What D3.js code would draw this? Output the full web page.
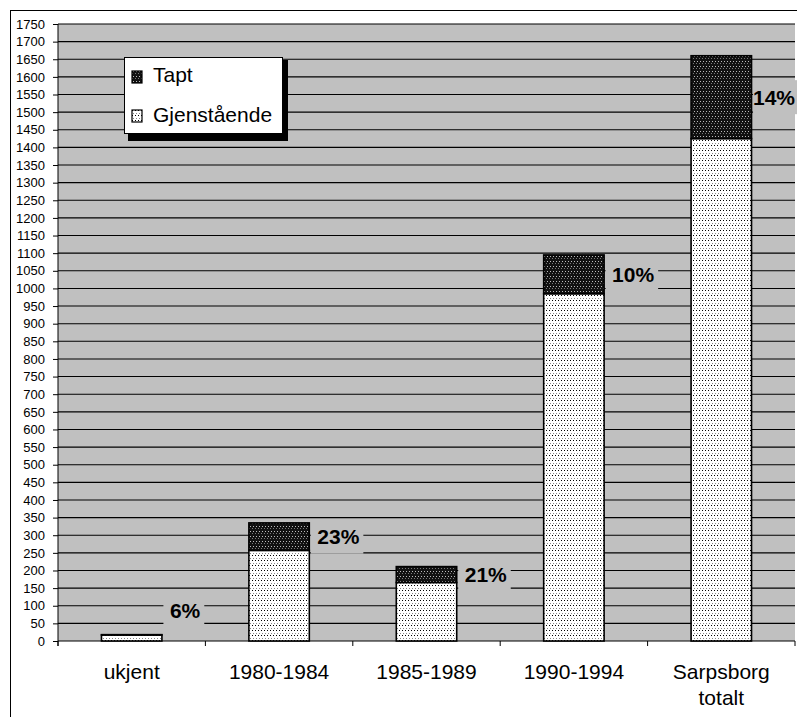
<!DOCTYPE html>
<html>
<head>
<meta charset="utf-8">
<script src="https://cdn.jsdelivr.net/npm/d3@7"></script>
<style>
  html, body { margin: 0; padding: 0; background: #fff; }
  svg { display: block; }
  text { font-family: Arial, "Liberation Sans", sans-serif; }
</style>
</head>
<body>
<svg id="chart" width="797" height="717"></svg>
<script>
// Boligmasse etter byggeperiode: gjenstående og tapt
const categories = ["ukjent", "1980-1984", "1985-1989", "1990-1994", "Sarpsborg totalt"];
const gjenstaende = [17, 257, 166, 985, 1425];
const tapt = [1, 78, 45, 110, 235];
const pctLabels = ["6%", "23%", "21%", "10%", "14%"];
const yTicks = d3.range(0, 1751, 50);
const seriesNames = ["Tapt", "Gjenstående"];

const svg = d3.select("#chart");
const plot = { left: 58, right: 795, top: 24, bottom: 641 };

const x = d3.scaleBand().domain(categories).range([plot.left, plot.right]).padding(0);
const y = d3.scaleLinear().domain([0, 1750]).range([plot.bottom, plot.top]);
const barW = x.bandwidth() * 0.41;

// fill patterns
const defs = svg.append("defs");
const pLight = defs.append("pattern").attr("id", "patLight")
  .attr("patternUnits", "userSpaceOnUse").attr("width", 3).attr("height", 5);
pLight.append("rect").attr("width", 3).attr("height", 5).attr("fill", "#fff");
pLight.append("rect").attr("x", 0).attr("y", 0).attr("width", 1).attr("height", 1).attr("fill", "#000");
pLight.append("rect").attr("x", 1).attr("y", 3).attr("width", 1).attr("height", 1).attr("fill", "#888");

const pDark = defs.append("pattern").attr("id", "patDark")
  .attr("patternUnits", "userSpaceOnUse").attr("width", 3).attr("height", 5);
pDark.append("rect").attr("width", 3).attr("height", 5).attr("fill", "#111");
pDark.append("rect").attr("x", 1).attr("y", 1).attr("width", 1).attr("height", 1).attr("fill", "#bbb");
pDark.append("rect").attr("x", 0).attr("y", 3).attr("width", 1).attr("height", 1).attr("fill", "#777");

// outer chart frame
svg.append("rect").attr("x", 10.5).attr("y", 10.5).attr("width", 800).attr("height", 720)
  .attr("fill", "#fff").attr("stroke", "#000").attr("stroke-width", 1);

// plot background
svg.append("rect").attr("x", plot.left).attr("y", plot.top)
  .attr("width", plot.right - plot.left).attr("height", plot.bottom - plot.top)
  .attr("fill", "#c0c0c0");

// gridlines
svg.append("g").selectAll("line").data(yTicks.filter(d => d > 0)).join("line")
  .attr("x1", plot.left).attr("x2", plot.right)
  .attr("y1", d => y(d)).attr("y2", d => y(d))
  .attr("stroke", "#000").attr("stroke-width", 1.1);

// y axis
const yAxis = svg.append("g").attr("transform", `translate(${plot.left},0)`)
  .call(d3.axisLeft(y).tickValues(yTicks).tickFormat(d3.format("d"))
    .tickSize(5).tickPadding(8).tickSizeOuter(0));
yAxis.select(".domain").remove();
yAxis.selectAll(".tick line").attr("stroke", "#000");
yAxis.selectAll(".tick text").attr("font-size", 13).attr("fill", "#000")
  .attr("font-family", "Arial, 'Liberation Sans', sans-serif");
svg.append("line").attr("x1", plot.left).attr("x2", plot.left)
  .attr("y1", plot.top).attr("y2", plot.bottom + 5).attr("stroke", "#000");

// x axis line and category boundary ticks
svg.append("line").attr("x1", plot.left).attr("x2", plot.right)
  .attr("y1", plot.bottom).attr("y2", plot.bottom).attr("stroke", "#000").attr("stroke-width", 1.2);
const bounds = categories.map(c => x(c)).concat([x(categories[categories.length - 1]) + x.bandwidth()]);
svg.append("g").selectAll("line").data(bounds).join("line")
  .attr("x1", d => d).attr("x2", d => d)
  .attr("y1", plot.bottom).attr("y2", plot.bottom + 5).attr("stroke", "#000");

// category labels
const xl = svg.append("g").selectAll("text").data(categories).join("text")
  .attr("x", d => x(d) + x.bandwidth() / 2).attr("y", 679)
  .attr("text-anchor", "middle").attr("font-size", 21).attr("fill", "#000");
xl.each(function(d) {
  const lines = d.split(" ");
  d3.select(this).selectAll("tspan").data(lines).join("tspan")
    .attr("x", x(d) + x.bandwidth() / 2)
    .attr("dy", (l, i) => i === 0 ? 0 : 26)
    .text(l => l);
});

// stacked bars
const rows = categories.map((c, i) => ({ c, g: gjenstaende[i], t: tapt[i], p: pctLabels[i] }));
const bars = svg.append("g");
rows.forEach(r => {
  const bx = x(r.c) + (x.bandwidth() - barW) / 2;
  bars.append("rect").attr("x", bx).attr("y", y(r.g))
    .attr("width", barW).attr("height", y(0) - y(r.g))
    .attr("fill", "url(#patLight)").attr("stroke", "#000").attr("stroke-width", 1.6);
  bars.append("rect").attr("x", bx).attr("y", y(r.g + r.t))
    .attr("width", barW).attr("height", y(r.g) - y(r.g + r.t))
    .attr("fill", "url(#patDark)").attr("stroke", "#000").attr("stroke-width", 1.6);
});

// percentage labels beside the lost share
const lab = svg.append("g");
rows.forEach(r => {
  const bx = x(r.c) + (x.bandwidth() - barW) / 2 + barW;
  const mid = Math.min((y(r.g) + y(r.g + r.t)) / 2, y(0) - 31);
  const t = lab.append("text").attr("font-size", 21).attr("font-weight", "bold")
    .attr("fill", "#000").attr("dominant-baseline", "central").text(r.p);
  const tw = t.node().getComputedTextLength();
  const tx = Math.min(bx + 8, plot.right - tw);
  t.attr("x", tx).attr("y", mid);
  lab.insert("rect", "text").attr("x", bx + 1.5).attr("y", mid - 17)
    .attr("width", Math.max(tx + tw + 4 - bx - 1.5, 0)).attr("height", 34)
    .attr("fill", "#c0c0c0");
});

// legend
const lg = svg.append("g");
lg.append("rect").attr("x", 128).attr("y", 60).attr("width", 160).attr("height", 81).attr("fill", "#000");
lg.append("rect").attr("x", 124.5).attr("y", 57.5).attr("width", 158).attr("height", 76)
  .attr("fill", "#fff").attr("stroke", "#000");
const swatchFill = ["url(#patDark)", "url(#patLight)"];
const swatchY = [71, 110];
const textY = [82, 121.5];
seriesNames.forEach((s, i) => {
  lg.append("rect").attr("x", 132).attr("y", swatchY[i]).attr("width", 10).attr("height", 12)
    .attr("fill", swatchFill[i]).attr("stroke", "#000").attr("stroke-width", 1.2);
  lg.append("text").attr("x", 153).attr("y", textY[i]).attr("font-size", 21)
    .attr("fill", "#000").text(s);
});
</script>
</body>
</html>
